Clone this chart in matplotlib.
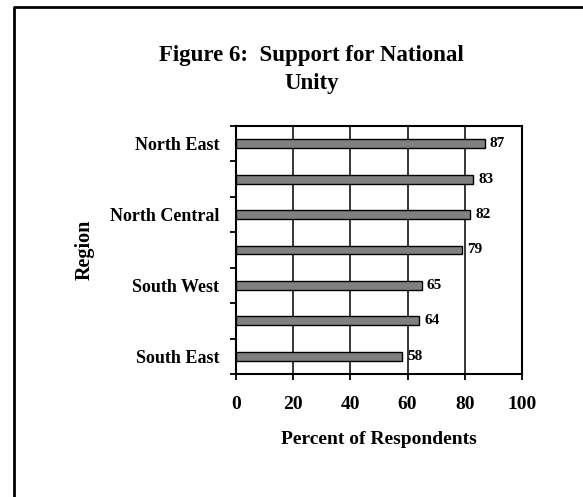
import matplotlib
matplotlib.use('Agg')
import matplotlib.pyplot as plt
from matplotlib.lines import Line2D

plt.rcParams['font.family'] = 'Liberation Serif'
plt.rcParams['font.weight'] = 'bold'

# regions, top to bottom; only every other name fits on the axis
regions = ['North East', '', 'North Central', '', 'South West', '', 'South East']
percent = [87, 83, 82, 79, 65, 64, 58]
xticks = [0, 20, 40, 60, 80, 100]

fig = plt.figure(figsize=(5.83, 4.97), dpi=100)
ax = fig.add_axes([0.405, 0.2475, 0.49, 0.499])

ypos = list(range(len(regions)))
ax.barh(ypos, percent, height=0.25, color='#808080', edgecolor='black',
        linewidth=1.0, zorder=3)
for y, v in zip(ypos, percent):
    ax.text(v + 1.8, y, str(v), ha='left', va='center', fontsize=11,
            fontweight='bold', zorder=4)

ax.set_xlim(0, 100)
ax.set_ylim(len(regions) - 0.5, -0.5)
ax.set_xticks(xticks)
ax.set_xticklabels([str(t) for t in xticks], fontsize=14, fontweight='bold')
ax.xaxis.grid(True, color='black', linewidth=1.1, zorder=1)

# tick marks sit between the bars, names sit on the bars
ax.set_yticks([i - 0.5 for i in range(len(regions) + 1)])
ax.set_yticklabels([])
ax.set_yticks(ypos, minor=True)
ax.set_yticklabels(regions, minor=True, fontsize=13, fontweight='bold')
ax.tick_params(axis='y', which='minor', length=0, pad=12)
ax.tick_params(axis='y', which='major', length=4, width=1.3, direction='out')
ax.tick_params(axis='x', length=4, width=1.3, direction='out', pad=12)

for s in ax.spines.values():
    s.set_linewidth(1.5)

ax.set_xlabel('Percent of Respondents', fontsize=14, fontweight='bold',
              labelpad=13)
fig.text(0.146, 0.497, 'Region', rotation=90, ha='center', va='center',
         fontsize=14.5, fontweight='bold')

fig.text(0.534, 0.86, 'Figure 6:  Support for National\nUnity', ha='center',
         va='center', fontsize=16.5, fontweight='bold', linespacing=1.4)

# chart border (right and bottom edges fall outside the image)
fig.add_artist(Line2D([14 / 583, 14 / 583, 1.0], [0.0, 1 - 7 / 497, 1 - 7 / 497],
                      transform=fig.transFigure, color='black', linewidth=2))

fig.savefig('out.png', dpi=100)
